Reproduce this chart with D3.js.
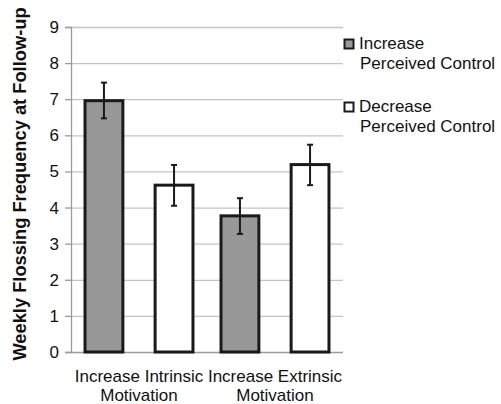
<!DOCTYPE html>
<html><head><meta charset="utf-8">
<script src="https://cdn.jsdelivr.net/npm/d3@7"></script>
<style>body{margin:0;background:#fff;} svg{display:block;font-family:Arial,"Liberation Sans",sans-serif;}</style>
</head><body>
<script>
const categories = [["Increase Intrinsic","Motivation"],["Increase Extrinsic","Motivation"]];
const seriesNames = ["Increase Perceived Control","Decrease Perceived Control"];
const legendLines = [["Increase","Perceived Control"],["Decrease","Perceived Control"]];
const seriesColors = ["#989898","#ffffff"];
const means = [[6.96, 4.62],[3.77, 5.19]];
const errLow = [[6.47, 4.05],[3.27, 4.62]];
const errHigh = [[7.46, 5.18],[4.26, 5.74]];
const yTicks = [0,1,2,3,4,5,6,7,8,9];

(function(){
const W=501,H=404;
const svg=d3.select("body").append("svg").attr("width",W).attr("height",H);
const mLeft=71,mRight=343,mTop=27,mBottom=352;
const y=d3.scaleLinear().domain([0,9]).range([mBottom,mTop]);
const x0=d3.scaleBand().domain(d3.range(categories.length)).range([mLeft,mRight]).padding(0);
const x1=d3.scaleBand().domain(d3.range(seriesNames.length)).range([0,x0.bandwidth()]).paddingInner(0.46).paddingOuter(0.2);

// grid
svg.append("g").selectAll("line").data(yTicks.filter(d=>d>0)).join("line")
  .attr("x1",mLeft).attr("x2",mRight).attr("y1",d=>y(d)+0.5).attr("y2",d=>y(d)+0.5)
  .attr("stroke","#c4c4c4").attr("stroke-width",1.3);

// y axis
const ya=svg.append("g").attr("transform",`translate(${mLeft},0)`)
  .call(d3.axisLeft(y).tickValues(yTicks).tickSize(6).tickPadding(6).tickFormat(d3.format("d")));
ya.attr("font-size",null).attr("font-family",null);
ya.select(".domain").attr("stroke","#9a9a9a").attr("stroke-width",1.3);
ya.selectAll(".tick line").attr("stroke","#9a9a9a").attr("stroke-width",1.3);
ya.selectAll("text").attr("font-size",17).attr("fill","#111");

// x baseline
svg.append("line").attr("x1",mLeft).attr("x2",mRight).attr("y1",y(0)+0.5).attr("y2",y(0)+0.5)
  .attr("stroke","#9a9a9a").attr("stroke-width",1.3);

// bars
const groups=svg.append("g").selectAll("g").data(means).join("g")
  .attr("transform",(d,i)=>`translate(${x0(i)},0)`);
groups.selectAll("rect").data(d=>d).join("rect")
  .attr("x",(d,j)=>x1(j)).attr("width",x1.bandwidth())
  .attr("y",d=>y(d)).attr("height",d=>y(0)-y(d))
  .attr("fill",(d,j)=>seriesColors[j]).attr("stroke","#1a1a1a").attr("stroke-width",3);

// error bars
groups.each(function(d,i){
  const g=d3.select(this);
  d.forEach((v,j)=>{
    const cx=x1(j)+x1.bandwidth()/2;
    g.append("line").attr("x1",cx).attr("x2",cx).attr("y1",y(errHigh[i][j])).attr("y2",y(errLow[i][j])).attr("stroke","#1a1a1a").attr("stroke-width",2);
    [errHigh[i][j],errLow[i][j]].forEach(e=>{
      g.append("line").attr("x1",cx-3).attr("x2",cx+3).attr("y1",y(e)).attr("y2",y(e)).attr("stroke","#1a1a1a").attr("stroke-width",2);
    });
  });
});

// x labels
categories.forEach((lines,i)=>{
  const cx=x0(i)+x0.bandwidth()/2;
  lines.forEach((t,k)=>{
    svg.append("text").attr("x",cx).attr("y",382+k*18.5).attr("text-anchor","middle")
      .attr("font-size",17).attr("fill","#111").text(t);
  });
});

// y title
svg.append("text").attr("transform","translate(26,184) rotate(-90)").attr("text-anchor","middle")
  .attr("font-size",18.3).attr("font-weight","bold").attr("fill","#111")
  .text("Weekly Flossing Frequency at Follow-up");

// legend
const legY=[49,112];
legendLines.forEach((lines,j)=>{
  svg.append("rect").attr("x",344.5).attr("y",legY[j]-9.5).attr("width",9).attr("height",9)
    .attr("fill",seriesColors[j]).attr("stroke","#1a1a1a").attr("stroke-width",2);
  svg.append("text").attr("x",359).attr("y",legY[j]).attr("font-size",17).attr("fill","#111").text(lines[0]);
  svg.append("text").attr("x",360).attr("y",legY[j]+20).attr("font-size",17).attr("fill","#111").text(lines[1]);
});
})();
</script>
</body></html>
